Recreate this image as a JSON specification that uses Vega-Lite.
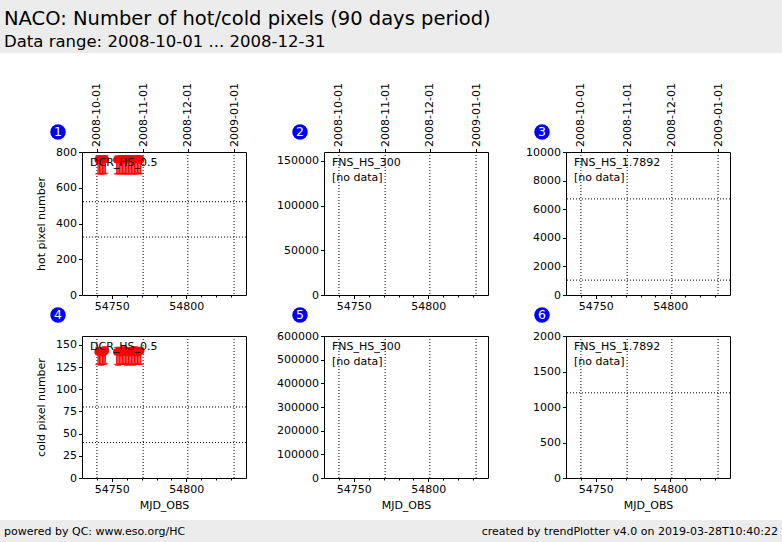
{
  "$schema": "https://vega.github.io/schema/vega-lite/v6.json",
  "background": "white",
  "padding": 0,
  "autosize": {"type": "pad"},
  "config": {
    "font": "DejaVu Sans",
    "view": {"stroke": "black", "strokeWidth": 1},
    "axis": {"labelFont": "DejaVu Sans", "labelFontSize": 11, "labelColor": "black", "titleFont": "DejaVu Sans", "titleFontSize": 11, "titleFontWeight": "normal", "titleColor": "black", "tickColor": "black", "tickSize": 3.5, "labelPadding": 2, "domain": false, "grid": false, "labelOverlap": false, "labelFlush": false},
    "text": {"font": "DejaVu Sans", "fontSize": 11, "color": "black"}
  },
  "datasets": {
    "header": [{"title": "NACO: Number of hot/cold pixels (90 days period)", "sub": "Data range: 2008-10-01 ... 2008-12-31"}],
    "footer": [{"left": "powered by QC: www.eso.org/HC", "right": "created by trendPlotter v4.0 on 2019-03-28T10:40:22"}],
    "dates": [{"mjd": 54740, "d": "2008-10-01"}, {"mjd": 54771, "d": "2008-11-01"}, {"mjd": 54801, "d": "2008-12-01"}, {"mjd": 54832, "d": "2009-01-01"}],
    "panels": [{"p": 1, "label": "DCR_HS_0.5"}, {"p": 2, "label": "FNS_HS_300\n[no data]"}, {"p": 3, "label": "FNS_HS_1.7892\n[no data]"}, {"p": 4, "label": "DCR_HS_0.5"}, {"p": 5, "label": "FNS_HS_300\n[no data]"}, {"p": 6, "label": "FNS_HS_1.7892\n[no data]"}],
    "thr": [{"p": 1, "level": 522}, {"p": 1, "level": 324}, {"p": 3, "level": 6720}, {"p": 3, "level": 1040}, {"p": 4, "level": 80}, {"p": 4, "level": 40}, {"p": 6, "level": 1200}],
    "pix": [
      {"p": 1, "mjd": 54740.8, "n": 757, "lo": 678, "hi": 777},
      {"p": 1, "mjd": 54741.8, "n": 759, "lo": 680, "hi": 779},
      {"p": 1, "mjd": 54742.7, "n": 756, "lo": 676, "hi": 776},
      {"p": 1, "mjd": 54743.8, "n": 758, "lo": 679, "hi": 778},
      {"p": 1, "mjd": 54744.7, "n": 757, "lo": 677, "hi": 777},
      {"p": 1, "mjd": 54745.6, "n": 760, "lo": 681, "hi": 780},
      {"p": 1, "mjd": 54753.3, "n": 756, "lo": 677, "hi": 776},
      {"p": 1, "mjd": 54754.2, "n": 758, "lo": 679, "hi": 778},
      {"p": 1, "mjd": 54755.3, "n": 757, "lo": 678, "hi": 777},
      {"p": 1, "mjd": 54756.2, "n": 759, "lo": 680, "hi": 779},
      {"p": 1, "mjd": 54757.3, "n": 756, "lo": 676, "hi": 776},
      {"p": 1, "mjd": 54758.2, "n": 758, "lo": 679, "hi": 778},
      {"p": 1, "mjd": 54759.3, "n": 760, "lo": 681, "hi": 780},
      {"p": 1, "mjd": 54760.2, "n": 757, "lo": 677, "hi": 777},
      {"p": 1, "mjd": 54761.3, "n": 756, "lo": 677, "hi": 776},
      {"p": 1, "mjd": 54762.2, "n": 758, "lo": 679, "hi": 778},
      {"p": 1, "mjd": 54763.3, "n": 759, "lo": 680, "hi": 779},
      {"p": 1, "mjd": 54764.2, "n": 757, "lo": 678, "hi": 777},
      {"p": 1, "mjd": 54765.3, "n": 756, "lo": 676, "hi": 776},
      {"p": 1, "mjd": 54766.2, "n": 758, "lo": 679, "hi": 778},
      {"p": 1, "mjd": 54767.3, "n": 760, "lo": 681, "hi": 780},
      {"p": 1, "mjd": 54768.2, "n": 757, "lo": 678, "hi": 777},
      {"p": 1, "mjd": 54769.4, "n": 758, "lo": 679, "hi": 778},
      {"p": 4, "mjd": 54740.8, "n": 142, "lo": 128, "hi": 147},
      {"p": 4, "mjd": 54741.8, "n": 143, "lo": 128, "hi": 147},
      {"p": 4, "mjd": 54742.7, "n": 142, "lo": 127, "hi": 147},
      {"p": 4, "mjd": 54743.8, "n": 141, "lo": 128, "hi": 146},
      {"p": 4, "mjd": 54744.7, "n": 142, "lo": 128, "hi": 147},
      {"p": 4, "mjd": 54745.6, "n": 143, "lo": 129, "hi": 148},
      {"p": 4, "mjd": 54753.3, "n": 142, "lo": 128, "hi": 147},
      {"p": 4, "mjd": 54754.2, "n": 142, "lo": 127, "hi": 147},
      {"p": 4, "mjd": 54755.3, "n": 143, "lo": 128, "hi": 147},
      {"p": 4, "mjd": 54756.2, "n": 141, "lo": 128, "hi": 146},
      {"p": 4, "mjd": 54757.3, "n": 142, "lo": 128, "hi": 147},
      {"p": 4, "mjd": 54758.2, "n": 143, "lo": 129, "hi": 148},
      {"p": 4, "mjd": 54759.3, "n": 142, "lo": 128, "hi": 147},
      {"p": 4, "mjd": 54760.2, "n": 142, "lo": 127, "hi": 147},
      {"p": 4, "mjd": 54761.3, "n": 141, "lo": 128, "hi": 146},
      {"p": 4, "mjd": 54762.2, "n": 143, "lo": 128, "hi": 147},
      {"p": 4, "mjd": 54763.3, "n": 142, "lo": 128, "hi": 147},
      {"p": 4, "mjd": 54764.2, "n": 142, "lo": 127, "hi": 147},
      {"p": 4, "mjd": 54765.3, "n": 143, "lo": 129, "hi": 148},
      {"p": 4, "mjd": 54766.2, "n": 142, "lo": 128, "hi": 147},
      {"p": 4, "mjd": 54767.3, "n": 141, "lo": 128, "hi": 146},
      {"p": 4, "mjd": 54768.2, "n": 142, "lo": 128, "hi": 147},
      {"p": 4, "mjd": 54769.4, "n": 143, "lo": 128, "hi": 147}
    ]
  },
  "vconcat": [
    {
      "width": 782, "height": 53,
      "view": {"fill": "#ececec", "stroke": null},
      "data": {"name": "header"},
      "layer": [
        {"mark": {"type": "text", "align": "left", "baseline": "alphabetic", "fontSize": 19.5, "x": 4, "y": 25}, "encoding": {"text": {"field": "title"}}},
        {"mark": {"type": "text", "align": "left", "baseline": "alphabetic", "fontSize": 16.5, "x": 4, "y": 47}, "encoding": {"text": {"field": "sub"}}}
      ]
    },
    {
      "spacing": 9,
      "vconcat": [
        {
          "columns": 4,
          "bounds": "flush",
          "spacing": {"row": 41, "column": 78},
          "concat": [
            {"width": 4, "height": 143, "view": {"stroke": null}, "data": {"values": []}, "mark": {"type": "point"}, "encoding": {}},
            {
              "width": 164, "height": 143,
              "layer": [
                {"data": {"name": "dates"}, "mark": {"type": "rule", "color": "black", "strokeWidth": 1, "strokeDash": [1, 2]},
                 "encoding": {"x": {"field": "mjd", "type": "quantitative", "scale": {"domain": [54734, 54834]}, "axis": {"orient": "top", "values": [54740, 54771, 54801, 54832], "tickCount": 50, "labelExpr": "datum.value==54740?'2008-10-01':datum.value==54771?'2008-11-01':datum.value==54801?'2008-12-01':'2009-01-01'", "labelAngle": 270, "labelAlign": "left", "labelBaseline": "middle", "title": null}}}},
                {"data": {"name": "thr"}, "transform": [{"filter": "datum.p==1"}], "mark": {"type": "rule", "color": "black", "strokeWidth": 1, "strokeDash": [1, 2]},
                 "encoding": {"y": {"field": "level", "type": "quantitative", "scale": {"domain": [0, 800]}, "axis": {"values": [0, 200, 400, 600, 800], "tickCount": 50, "format": "d", "title": "hot pixel number", "titlePadding": 9}}}},
                {"data": {"name": "pix"}, "transform": [{"filter": "datum.p==1"}], "mark": {"type": "rule", "color": "red", "strokeWidth": 1.3},
                 "encoding": {"x": {"field": "mjd", "type": "quantitative", "axis": {"orient": "bottom", "values": [54750, 54800], "tickCount": 50, "format": "d", "title": null}}, "y": {"field": "lo", "type": "quantitative"}, "y2": {"field": "hi"}}},
                {"data": {"name": "pix"}, "transform": [{"filter": "datum.p==1"}], "mark": {"type": "tick", "orient": "horizontal", "color": "red", "size": 6, "thickness": 1.3},
                 "encoding": {"x": {"field": "mjd", "type": "quantitative", "axis": {"orient": "bottom", "values": [54740, 54760, 54770, 54780, 54790, 54810, 54820, 54830], "tickCount": 50, "labels": false, "tickSize": 2, "title": null}}, "y": {"field": "lo", "type": "quantitative"}}},
                {"data": {"name": "pix"}, "transform": [{"filter": "datum.p==1"}], "mark": {"type": "tick", "orient": "horizontal", "color": "red", "size": 6, "thickness": 1.3},
                 "encoding": {"x": {"field": "mjd", "type": "quantitative", "axis": null}, "y": {"field": "hi", "type": "quantitative"}}},
                {"data": {"name": "pix"}, "transform": [{"filter": "datum.p==1"}], "mark": {"type": "circle", "color": "red", "size": 55, "opacity": 1},
                 "encoding": {"x": {"field": "mjd", "type": "quantitative", "axis": null}, "y": {"field": "n", "type": "quantitative"}}},
                {"data": {"name": "panels"}, "transform": [{"filter": "datum.p==1"}], "mark": {"type": "text", "align": "left", "baseline": "top", "lineBreak": "\n", "lineHeight": 15, "x": 8, "y": 5}, "encoding": {"text": {"field": "label"}}},
                {"data": {"name": "panels"}, "transform": [{"filter": "datum.p==1"}], "mark": {"type": "circle", "color": "#0000ff", "size": 240, "opacity": 1, "x": -24, "y": -20}, "encoding": {}},
                {"data": {"name": "panels"}, "transform": [{"filter": "datum.p==1"}], "mark": {"type": "text", "color": "white", "align": "center", "baseline": "middle", "fontSize": 12.5, "x": -24, "y": -20}, "encoding": {"text": {"field": "p"}}}
              ],
              "resolve": {"axis": {"x": "independent"}}
            },
            {
              "width": 164, "height": 143,
              "layer": [
                {"data": {"name": "dates"}, "mark": {"type": "rule", "color": "black", "strokeWidth": 1, "strokeDash": [1, 2]},
                 "encoding": {"x": {"field": "mjd", "type": "quantitative", "scale": {"domain": [54734, 54834]}, "axis": {"orient": "top", "values": [54740, 54771, 54801, 54832], "tickCount": 50, "labelExpr": "datum.value==54740?'2008-10-01':datum.value==54771?'2008-11-01':datum.value==54801?'2008-12-01':'2009-01-01'", "labelAngle": 270, "labelAlign": "left", "labelBaseline": "middle", "title": null}}}},
                {"data": {"name": "thr"}, "transform": [{"filter": "datum.p==2"}], "mark": {"type": "rule", "color": "black", "strokeWidth": 1, "strokeDash": [1, 2]},
                 "encoding": {"y": {"field": "level", "type": "quantitative", "scale": {"domain": [0, 160000]}, "axis": {"values": [0, 50000, 100000, 150000], "tickCount": 50, "format": "d", "title": null}}}},
                {"data": {"name": "pix"}, "transform": [{"filter": "datum.p==2"}], "mark": {"type": "rule", "color": "red", "strokeWidth": 1.3},
                 "encoding": {"x": {"field": "mjd", "type": "quantitative", "axis": {"orient": "bottom", "values": [54750, 54800], "tickCount": 50, "format": "d", "title": null}}, "y": {"field": "lo", "type": "quantitative"}, "y2": {"field": "hi"}}},
                {"data": {"name": "pix"}, "transform": [{"filter": "datum.p==2"}], "mark": {"type": "tick", "orient": "horizontal", "color": "red", "size": 6, "thickness": 1.3},
                 "encoding": {"x": {"field": "mjd", "type": "quantitative", "axis": {"orient": "bottom", "values": [54740, 54760, 54770, 54780, 54790, 54810, 54820, 54830], "tickCount": 50, "labels": false, "tickSize": 2, "title": null}}, "y": {"field": "lo", "type": "quantitative"}}},
                {"data": {"name": "panels"}, "transform": [{"filter": "datum.p==2"}], "mark": {"type": "text", "align": "left", "baseline": "top", "lineBreak": "\n", "lineHeight": 15, "x": 8, "y": 5}, "encoding": {"text": {"field": "label"}}},
                {"data": {"name": "panels"}, "transform": [{"filter": "datum.p==2"}], "mark": {"type": "circle", "color": "#0000ff", "size": 240, "opacity": 1, "x": -24, "y": -20}, "encoding": {}},
                {"data": {"name": "panels"}, "transform": [{"filter": "datum.p==2"}], "mark": {"type": "text", "color": "white", "align": "center", "baseline": "middle", "fontSize": 12.5, "x": -24, "y": -20}, "encoding": {"text": {"field": "p"}}}
              ],
              "resolve": {"axis": {"x": "independent"}}
            },
            {
              "width": 164, "height": 143,
              "layer": [
                {"data": {"name": "dates"}, "mark": {"type": "rule", "color": "black", "strokeWidth": 1, "strokeDash": [1, 2]},
                 "encoding": {"x": {"field": "mjd", "type": "quantitative", "scale": {"domain": [54734, 54834]}, "axis": {"orient": "top", "values": [54740, 54771, 54801, 54832], "tickCount": 50, "labelExpr": "datum.value==54740?'2008-10-01':datum.value==54771?'2008-11-01':datum.value==54801?'2008-12-01':'2009-01-01'", "labelAngle": 270, "labelAlign": "left", "labelBaseline": "middle", "title": null}}}},
                {"data": {"name": "thr"}, "transform": [{"filter": "datum.p==3"}], "mark": {"type": "rule", "color": "black", "strokeWidth": 1, "strokeDash": [1, 2]},
                 "encoding": {"y": {"field": "level", "type": "quantitative", "scale": {"domain": [0, 10000]}, "axis": {"values": [0, 2000, 4000, 6000, 8000, 10000], "tickCount": 50, "format": "d", "title": null}}}},
                {"data": {"name": "pix"}, "transform": [{"filter": "datum.p==3"}], "mark": {"type": "rule", "color": "red", "strokeWidth": 1.3},
                 "encoding": {"x": {"field": "mjd", "type": "quantitative", "axis": {"orient": "bottom", "values": [54750, 54800], "tickCount": 50, "format": "d", "title": null}}, "y": {"field": "lo", "type": "quantitative"}, "y2": {"field": "hi"}}},
                {"data": {"name": "pix"}, "transform": [{"filter": "datum.p==3"}], "mark": {"type": "tick", "orient": "horizontal", "color": "red", "size": 6, "thickness": 1.3},
                 "encoding": {"x": {"field": "mjd", "type": "quantitative", "axis": {"orient": "bottom", "values": [54740, 54760, 54770, 54780, 54790, 54810, 54820, 54830], "tickCount": 50, "labels": false, "tickSize": 2, "title": null}}, "y": {"field": "lo", "type": "quantitative"}}},
                {"data": {"name": "panels"}, "transform": [{"filter": "datum.p==3"}], "mark": {"type": "text", "align": "left", "baseline": "top", "lineBreak": "\n", "lineHeight": 15, "x": 8, "y": 5}, "encoding": {"text": {"field": "label"}}},
                {"data": {"name": "panels"}, "transform": [{"filter": "datum.p==3"}], "mark": {"type": "circle", "color": "#0000ff", "size": 240, "opacity": 1, "x": -24, "y": -20}, "encoding": {}},
                {"data": {"name": "panels"}, "transform": [{"filter": "datum.p==3"}], "mark": {"type": "text", "color": "white", "align": "center", "baseline": "middle", "fontSize": 12.5, "x": -24, "y": -20}, "encoding": {"text": {"field": "p"}}}
              ],
              "resolve": {"axis": {"x": "independent"}}
            },
            {"width": 4, "height": 142, "view": {"stroke": null}, "data": {"values": []}, "mark": {"type": "point"}, "encoding": {}},
            {
              "width": 164, "height": 142,
              "layer": [
                {"data": {"name": "dates"}, "mark": {"type": "rule", "color": "black", "strokeWidth": 1, "strokeDash": [1, 2]},
                 "encoding": {"x": {"field": "mjd", "type": "quantitative", "scale": {"domain": [54734, 54834]}, "axis": null}}},
                {"data": {"name": "thr"}, "transform": [{"filter": "datum.p==4"}], "mark": {"type": "rule", "color": "black", "strokeWidth": 1, "strokeDash": [1, 2]},
                 "encoding": {"y": {"field": "level", "type": "quantitative", "scale": {"domain": [0, 150]}, "axis": {"values": [0, 25, 50, 75, 100, 125, 150], "tickCount": 50, "format": "d", "title": "cold pixel number", "titlePadding": 9}}}},
                {"data": {"name": "pix"}, "transform": [{"filter": "datum.p==4"}], "mark": {"type": "rule", "color": "red", "strokeWidth": 1.3},
                 "encoding": {"x": {"field": "mjd", "type": "quantitative", "axis": {"orient": "bottom", "values": [54750, 54800], "tickCount": 50, "format": "d", "title": "MJD_OBS", "titlePadding": 5}}, "y": {"field": "lo", "type": "quantitative"}, "y2": {"field": "hi"}}},
                {"data": {"name": "pix"}, "transform": [{"filter": "datum.p==4"}], "mark": {"type": "tick", "orient": "horizontal", "color": "red", "size": 6, "thickness": 1.3},
                 "encoding": {"x": {"field": "mjd", "type": "quantitative", "axis": {"orient": "bottom", "values": [54740, 54760, 54770, 54780, 54790, 54810, 54820, 54830], "tickCount": 50, "labels": false, "tickSize": 2, "title": null}}, "y": {"field": "lo", "type": "quantitative"}}},
                {"data": {"name": "pix"}, "transform": [{"filter": "datum.p==4"}], "mark": {"type": "tick", "orient": "horizontal", "color": "red", "size": 6, "thickness": 1.3},
                 "encoding": {"x": {"field": "mjd", "type": "quantitative", "axis": null}, "y": {"field": "hi", "type": "quantitative"}}},
                {"data": {"name": "pix"}, "transform": [{"filter": "datum.p==4"}], "mark": {"type": "circle", "color": "red", "size": 55, "opacity": 1},
                 "encoding": {"x": {"field": "mjd", "type": "quantitative", "axis": null}, "y": {"field": "n", "type": "quantitative"}}},
                {"data": {"name": "panels"}, "transform": [{"filter": "datum.p==4"}], "mark": {"type": "text", "align": "left", "baseline": "top", "lineBreak": "\n", "lineHeight": 15, "x": 8, "y": 5}, "encoding": {"text": {"field": "label"}}},
                {"data": {"name": "panels"}, "transform": [{"filter": "datum.p==4"}], "mark": {"type": "circle", "color": "#0000ff", "size": 240, "opacity": 1, "x": -24, "y": -21}, "encoding": {}},
                {"data": {"name": "panels"}, "transform": [{"filter": "datum.p==4"}], "mark": {"type": "text", "color": "white", "align": "center", "baseline": "middle", "fontSize": 12.5, "x": -24, "y": -21}, "encoding": {"text": {"field": "p"}}}
              ],
              "resolve": {"axis": {"x": "independent"}}
            },
            {
              "width": 164, "height": 142,
              "layer": [
                {"data": {"name": "dates"}, "mark": {"type": "rule", "color": "black", "strokeWidth": 1, "strokeDash": [1, 2]},
                 "encoding": {"x": {"field": "mjd", "type": "quantitative", "scale": {"domain": [54734, 54834]}, "axis": null}}},
                {"data": {"name": "thr"}, "transform": [{"filter": "datum.p==5"}], "mark": {"type": "rule", "color": "black", "strokeWidth": 1, "strokeDash": [1, 2]},
                 "encoding": {"y": {"field": "level", "type": "quantitative", "scale": {"domain": [0, 600000]}, "axis": {"values": [0, 100000, 200000, 300000, 400000, 500000, 600000], "tickCount": 50, "format": "d", "title": null}}}},
                {"data": {"name": "pix"}, "transform": [{"filter": "datum.p==5"}], "mark": {"type": "rule", "color": "red", "strokeWidth": 1.3},
                 "encoding": {"x": {"field": "mjd", "type": "quantitative", "axis": {"orient": "bottom", "values": [54750, 54800], "tickCount": 50, "format": "d", "title": "MJD_OBS", "titlePadding": 5}}, "y": {"field": "lo", "type": "quantitative"}, "y2": {"field": "hi"}}},
                {"data": {"name": "pix"}, "transform": [{"filter": "datum.p==5"}], "mark": {"type": "tick", "orient": "horizontal", "color": "red", "size": 6, "thickness": 1.3},
                 "encoding": {"x": {"field": "mjd", "type": "quantitative", "axis": {"orient": "bottom", "values": [54740, 54760, 54770, 54780, 54790, 54810, 54820, 54830], "tickCount": 50, "labels": false, "tickSize": 2, "title": null}}, "y": {"field": "lo", "type": "quantitative"}}},
                {"data": {"name": "panels"}, "transform": [{"filter": "datum.p==5"}], "mark": {"type": "text", "align": "left", "baseline": "top", "lineBreak": "\n", "lineHeight": 15, "x": 8, "y": 5}, "encoding": {"text": {"field": "label"}}},
                {"data": {"name": "panels"}, "transform": [{"filter": "datum.p==5"}], "mark": {"type": "circle", "color": "#0000ff", "size": 240, "opacity": 1, "x": -24, "y": -21}, "encoding": {}},
                {"data": {"name": "panels"}, "transform": [{"filter": "datum.p==5"}], "mark": {"type": "text", "color": "white", "align": "center", "baseline": "middle", "fontSize": 12.5, "x": -24, "y": -21}, "encoding": {"text": {"field": "p"}}}
              ],
              "resolve": {"axis": {"x": "independent"}}
            },
            {
              "width": 164, "height": 142,
              "layer": [
                {"data": {"name": "dates"}, "mark": {"type": "rule", "color": "black", "strokeWidth": 1, "strokeDash": [1, 2]},
                 "encoding": {"x": {"field": "mjd", "type": "quantitative", "scale": {"domain": [54734, 54834]}, "axis": null}}},
                {"data": {"name": "thr"}, "transform": [{"filter": "datum.p==6"}], "mark": {"type": "rule", "color": "black", "strokeWidth": 1, "strokeDash": [1, 2]},
                 "encoding": {"y": {"field": "level", "type": "quantitative", "scale": {"domain": [0, 2000]}, "axis": {"values": [0, 500, 1000, 1500, 2000], "tickCount": 50, "format": "d", "title": null}}}},
                {"data": {"name": "pix"}, "transform": [{"filter": "datum.p==6"}], "mark": {"type": "rule", "color": "red", "strokeWidth": 1.3},
                 "encoding": {"x": {"field": "mjd", "type": "quantitative", "axis": {"orient": "bottom", "values": [54750, 54800], "tickCount": 50, "format": "d", "title": "MJD_OBS", "titlePadding": 5}}, "y": {"field": "lo", "type": "quantitative"}, "y2": {"field": "hi"}}},
                {"data": {"name": "pix"}, "transform": [{"filter": "datum.p==6"}], "mark": {"type": "tick", "orient": "horizontal", "color": "red", "size": 6, "thickness": 1.3},
                 "encoding": {"x": {"field": "mjd", "type": "quantitative", "axis": {"orient": "bottom", "values": [54740, 54760, 54770, 54780, 54790, 54810, 54820, 54830], "tickCount": 50, "labels": false, "tickSize": 2, "title": null}}, "y": {"field": "lo", "type": "quantitative"}}},
                {"data": {"name": "panels"}, "transform": [{"filter": "datum.p==6"}], "mark": {"type": "text", "align": "left", "baseline": "top", "lineBreak": "\n", "lineHeight": 15, "x": 8, "y": 5}, "encoding": {"text": {"field": "label"}}},
                {"data": {"name": "panels"}, "transform": [{"filter": "datum.p==6"}], "mark": {"type": "circle", "color": "#0000ff", "size": 240, "opacity": 1, "x": -24, "y": -21}, "encoding": {}},
                {"data": {"name": "panels"}, "transform": [{"filter": "datum.p==6"}], "mark": {"type": "text", "color": "white", "align": "center", "baseline": "middle", "fontSize": 12.5, "x": -24, "y": -21}, "encoding": {"text": {"field": "p"}}}
              ],
              "resolve": {"axis": {"x": "independent"}}
            }
          ]
        },
        {
          "width": 782, "height": 22,
          "view": {"fill": "#ececec", "stroke": null},
          "data": {"name": "footer"},
          "layer": [
            {"mark": {"type": "text", "align": "left", "baseline": "alphabetic", "fontSize": 11, "x": 4, "y": 15}, "encoding": {"text": {"field": "left"}}},
            {"mark": {"type": "text", "align": "right", "baseline": "alphabetic", "fontSize": 11, "x": 778, "y": 15}, "encoding": {"text": {"field": "right"}}}
          ]
        }
      ]
    }
  ],
  "spacing": 29
}
